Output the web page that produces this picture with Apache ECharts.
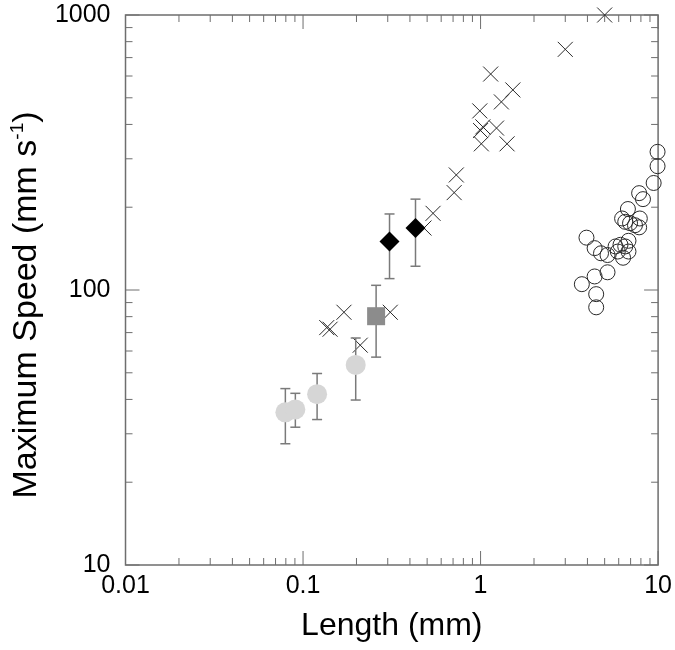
<!DOCTYPE html>
<html><head><meta charset="utf-8">
<script src="https://cdn.jsdelivr.net/npm/echarts@6/dist/echarts.min.js"></script>
<style>html,body{margin:0;padding:0;background:#fff}#c{width:675px;height:650px}</style>
</head><body><div id="c"></div>
<script>
// ---- data ----
const crossX = [5.0, 3.0, 1.14, 1.52, 1.31, 0.99, 1.03, 1.0, 1.23, 1.01, 1.41, 0.73, 0.71, 0.54, 0.48, 0.31, 0.17, 0.136, 0.142, 0.21];
const crossY = [1000, 750, 610, 534, 483, 448, 392, 380, 388, 340, 340, 262, 226, 190, 168, 83, 83, 73, 72, 63];

const openX = [9.93, 9.93, 9.44, 7.82, 8.22, 6.76, 6.27, 7.89, 6.53, 6.95, 7.41, 7.82, 3.95, 6.81, 4.39, 4.77, 5.19, 5.76, 6.14, 6.53, 5.93, 6.81, 6.35, 5.19, 4.39, 3.72, 4.48, 4.48];
const openY = [318, 282, 245, 225, 214, 197, 182, 182, 177, 175, 172, 169, 155, 151, 142, 136, 134, 144, 146, 144, 138, 138, 131, 116, 112, 105, 96.6, 86.5];

const diamondX = [0.307, 0.43];
const diamondY = [150, 168];
const diamondLow = [110, 122];
const diamondHigh = [189, 214];

const squareX = [0.258];
const squareY = [80.3];
const squareLow = [57];
const squareHigh = [104];

const greyX = [0.0795, 0.0905, 0.12, 0.198];
const greyY = [35.9, 36.8, 41.8, 53.4];
const greyLow = [27.6, 31.7, 33.8, 39.8];
const greyHigh = [43.8, 42.1, 49.7, 66.9];

const xMajorTicks = [0.01, 0.1, 1, 10];
const xMinorTicks = [0.02,0.03,0.04,0.05,0.06,0.07,0.08,0.09, 0.2,0.3,0.4,0.5,0.6,0.7,0.8,0.9, 2,3,4,5,6,7,8,9];
const yMajorTicks = [10, 100, 1000];
const yMinorTicks = [20,30,40,50,60,70,80,90, 200,300,400,500,600,700,800,900];

// ---- styling ----
const FONT = 'Liberation Sans, Arial, sans-serif';
const AXIS = '#6e6e6e';
const ERR = '#7a7a7a';
const X_MIN = 0.01, X_MAX = 10, Y_MIN = 10, Y_MAX = 1000;

const zip = (a, b) => a.map((v, i) => [v, b[i]]);
const zip3 = (a, b, c) => a.map((v, i) => [v, b[i], c[i]]);

function errRender(params, api) {
  const x = api.value(0);
  const lo = api.coord([x, api.value(1)]);
  const hi = api.coord([x, api.value(2)]);
  const cw = 5;
  const st = { stroke: ERR, lineWidth: 1.5 };
  return { type: 'group', children: [
    { type: 'line', shape: { x1: lo[0], y1: lo[1], x2: hi[0], y2: hi[1] }, style: st },
    { type: 'line', shape: { x1: lo[0]-cw, y1: lo[1], x2: lo[0]+cw, y2: lo[1] }, style: st },
    { type: 'line', shape: { x1: hi[0]-cw, y1: hi[1], x2: hi[0]+cw, y2: hi[1] }, style: st }
  ]};
}

function xTickRender(len) {
  return function (params, api) {
    const v = api.value(0);
    const b = api.coord([v, Y_MIN]);
    const t = api.coord([v, Y_MAX]);
    const st = { stroke: AXIS, lineWidth: 1 };
    return { type: 'group', children: [
      { type: 'line', shape: { x1: b[0], y1: b[1], x2: b[0], y2: b[1]-len }, style: st },
      { type: 'line', shape: { x1: t[0], y1: t[1], x2: t[0], y2: t[1]+len }, style: st }
    ]};
  };
}
function yTickRender(len) {
  return function (params, api) {
    const v = api.value(1);
    const l = api.coord([X_MIN, v]);
    const r = api.coord([X_MAX, v]);
    const st = { stroke: AXIS, lineWidth: 1 };
    return { type: 'group', children: [
      { type: 'line', shape: { x1: l[0], y1: l[1], x2: l[0]+len, y2: l[1] }, style: st },
      { type: 'line', shape: { x1: r[0], y1: r[1], x2: r[0]-len, y2: r[1] }, style: st }
    ]};
  };
}

const chart = echarts.init(document.getElementById('c'), null, { renderer: 'canvas' });
chart.setOption({
  animation: false,
  backgroundColor: '#fff',
  textStyle: { fontFamily: FONT },
  grid: { left: 109, right: 16, top: 15, bottom: 85, show: true, borderColor: AXIS, borderWidth: 1.5, backgroundColor: 'transparent' },
  xAxis: {
    type: 'log', logBase: 10, min: X_MIN, max: X_MAX,
    axisLine: { show: false }, axisTick: { show: false }, splitLine: { show: false },
    axisLabel: { fontSize: 25, color: '#000', margin: 9, fontFamily: FONT,
      formatter: v => String(v) },
    name: 'Length (mm)', nameLocation: 'middle', nameGap: 45,
    nameTextStyle: { fontSize: 32, color: '#000', fontFamily: FONT }
  },
  yAxis: {
    type: 'log', logBase: 10, min: Y_MIN, max: Y_MAX,
    axisLine: { show: false }, axisTick: { show: false }, splitLine: { show: false },
    axisLabel: { fontSize: 25, color: '#000', margin: 15, fontFamily: FONT,
      formatter: v => String(v) },
    name: '{t|Maximum Speed (mm s}{s|-1}{t|)}', nameLocation: 'middle', nameGap: 62,
    nameTextStyle: { color: '#000', fontFamily: FONT, padding: [0, 30, 0, 0],
      rich: { t: { fontSize: 34, color: '#000', fontFamily: FONT, lineHeight: 38 },
              s: { fontSize: 19, color: '#000', fontFamily: FONT, verticalAlign: 'top', lineHeight: 38 } } }
  },
  series: [
    { type: 'custom', silent: true, renderItem: xTickRender(7), data: xMinorTicks.map(v => [v, Y_MIN]), z: 1 },
    { type: 'custom', silent: true, renderItem: xTickRender(14), data: xMajorTicks.map(v => [v, Y_MIN]), z: 1 },
    { type: 'custom', silent: true, renderItem: yTickRender(7), data: yMinorTicks.map(v => [X_MIN, v]), z: 1 },
    { type: 'custom', silent: true, renderItem: yTickRender(14), data: yMajorTicks.map(v => [X_MIN, v]), z: 1 },
    { type: 'scatter', name: 'cross', data: zip(crossX, crossY), symbol: 'path://M0,0L10,10M10,0L0,10', symbolSize: 15,
      itemStyle: { color: 'rgba(0,0,0,0)', borderColor: '#2a2a2a', borderWidth: 1, opacity: 1 }, z: 2 },
    { type: 'scatter', name: 'open', data: zip(openX, openY), symbol: 'circle', symbolSize: 15,
      itemStyle: { color: 'rgba(0,0,0,0)', borderColor: '#2a2a2a', borderWidth: 1, opacity: 1 }, z: 2 },
    { type: 'custom', name: 'errGrey', renderItem: errRender, data: zip3(greyX, greyLow, greyHigh), z: 3 },
    { type: 'custom', name: 'errSquare', renderItem: errRender, data: zip3(squareX, squareLow, squareHigh), z: 3 },
    { type: 'custom', name: 'errDiamond', renderItem: errRender, data: zip3(diamondX, diamondLow, diamondHigh), z: 3 },
    { type: 'scatter', name: 'grey', data: zip(greyX, greyY), symbol: 'circle', symbolSize: 20,
      itemStyle: { color: '#d6d6d6', opacity: 1 }, z: 4 },
    { type: 'scatter', name: 'square', data: zip(squareX, squareY), symbol: 'rect', symbolSize: 18,
      itemStyle: { color: '#8c8c8c', opacity: 1 }, z: 4 },
    { type: 'scatter', name: 'diamond', data: zip(diamondX, diamondY), symbol: 'diamond', symbolSize: 20,
      itemStyle: { color: '#000', opacity: 1 }, z: 4 }
  ]
});
</script>
</body></html>
